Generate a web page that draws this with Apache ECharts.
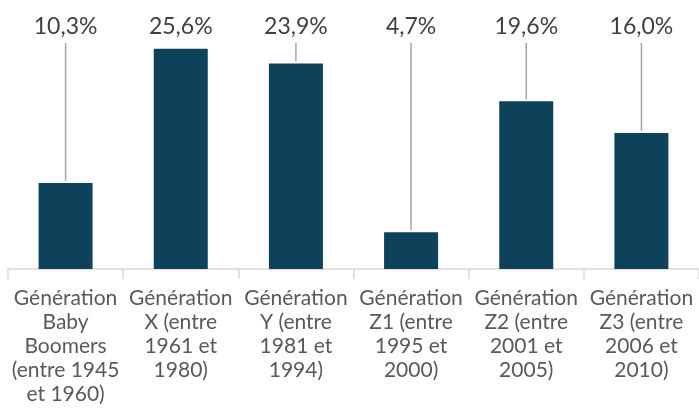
<!DOCTYPE html>
<html>
<head>
<meta charset="utf-8">
<script src="https://cdn.jsdelivr.net/npm/echarts@6/dist/echarts.min.js"></script>
<style>
  html, body { margin: 0; padding: 0; background: #ffffff; }
  #chart { width: 699px; height: 411px; }
</style>
</head>
<body>
<div id="chart"></div>
<script>
// Part de chaque génération (%)
const categories = [
  'Génération\nBaby\nBoomers\n(entre 1945\net 1960)',
  'Génération\nX (entre\n1961 et\n1980)',
  'Génération\nY (entre\n1981 et\n1994)',
  'Génération\nZ1 (entre\n1995 et\n2000)',
  'Génération\nZ2 (entre\n2001 et\n2005)',
  'Génération\nZ3 (entre\n2006 et\n2010)'
];
const values = [10.3, 25.6, 23.9, 4.7, 19.6, 16.0];

// value labels all sit on one row at the top of the chart
const LABEL_TOP = 15;
const LABEL_SIZE = 23;
const LEADER_START = 43;

const chart = echarts.init(document.getElementById('chart'), null, { renderer: 'canvas' });

const fmt = v => v.toFixed(1).replace('.', ',') + '%';

chart.setOption({
  animation: false,
  textStyle: { fontFamily: 'Lato' },
  grid: { left: 8, width: 694, top: 10, bottom: 142, containLabel: false },
  xAxis: {
    type: 'category',
    data: categories,
    axisLine: { lineStyle: { color: '#d9d9d9', width: 1.5 } },
    axisTick: { show: true, length: 10, alignWithLabel: false, lineStyle: { color: '#d9d9d9', width: 1.5 } },
    axisLabel: {
      interval: 0,
      color: '#595959',
      fontSize: 21,
      lineHeight: 24,
      margin: 17,
      fontFamily: 'Lato'
    }
  },
  yAxis: {
    type: 'value',
    min: 0.5,
    max: 30,
    show: false,
    splitLine: { show: false }
  },
  series: [{
    type: 'bar',
    data: values,
    barWidth: 54,
    itemStyle: { color: '#0e415a' },
    label: {
      show: true,
      position: 'top',
      formatter: p => fmt(p.value),
      color: '#404040',
      fontSize: LABEL_SIZE,
      fontFamily: 'Lato'
    },
    labelLayout: function (params) {
      return {
        x: params.rect.x + params.rect.width / 2,
        y: LABEL_TOP,
        align: 'center',
        verticalAlign: 'top'
      };
    },
    z: 2
  }, {
    // leader lines from the label row down to each bar top
    type: 'custom',
    data: values.map((v, i) => [i, v]),
    silent: true,
    z: 1,
    renderItem: function (params, api) {
      const top = api.coord([api.value(0), api.value(1)]);
      const y2 = top[1] - 2;
      if (y2 - LEADER_START < 8) return null;
      return {
        type: 'line',
        shape: { x1: top[0], y1: LEADER_START, x2: top[0], y2: y2 },
        style: { stroke: '#a6a6a6', lineWidth: 1.5 }
      };
    }
  }]
});
</script>
</body>
</html>
